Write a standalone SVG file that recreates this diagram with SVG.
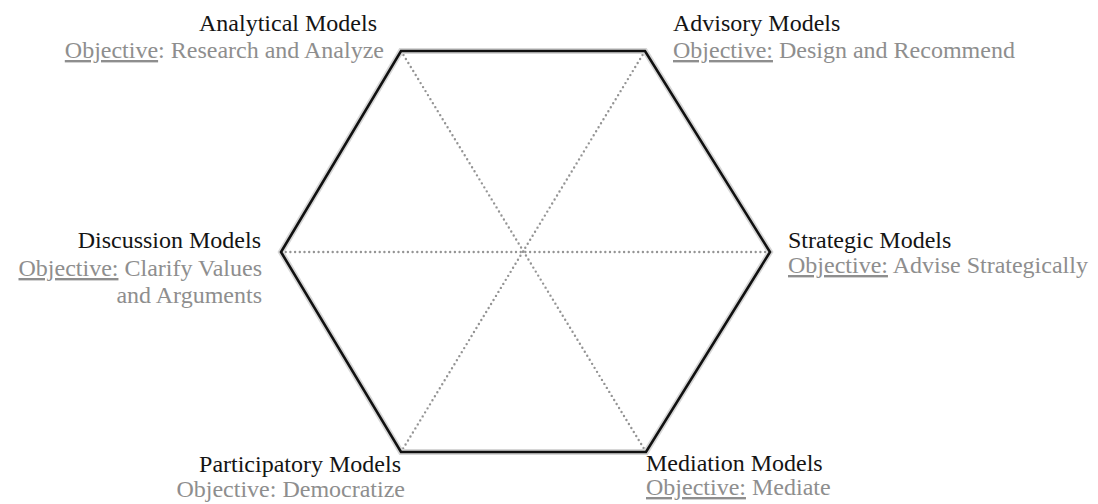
<svg xmlns="http://www.w3.org/2000/svg" width="1098" height="504" viewBox="0 0 1098 504">
  <style>
    .title { font-family: "Liberation Serif", "Times New Roman", serif; font-size: 24px; fill: #141414; }
    .obj { font-family: "Liberation Serif", "Times New Roman", serif; font-size: 24px; fill: #8e8e8e; }
    .u { text-decoration: underline; }
    .hex { fill: none; stroke: #111; stroke-width: 2.6; stroke-linejoin: miter; }
    .hexshadow { fill: none; stroke: #d6d6d6; stroke-width: 6; stroke-linejoin: miter; }
    .dot { fill: none; stroke: #949494; stroke-width: 2.4; stroke-linecap: round; stroke-dasharray: 0 4.7; }
  </style>
  <rect width="1098" height="504" fill="#ffffff"/>
  <g id="connectors">
    <line class="dot" x1="401" y1="51" x2="646" y2="452"/>
    <line class="dot" x1="645" y1="51" x2="401" y2="452"/>
    <line class="dot" x1="281" y1="252" x2="770" y2="252"/>
  </g>
  <g id="hexagon">
    <polygon class="hexshadow" points="401,51 645,51 770,252 646,452 401,452 281,252"/>
    <polygon class="hex" points="401,51 645,51 770,252 646,452 401,452 281,252"/>
  </g>
  <g id="analytical">
    <text class="title" x="377" y="31" text-anchor="end">Analytical Models</text>
    <text class="obj" x="384" y="58" text-anchor="end"><tspan class="u">Objective</tspan>: Research and Analyze</text>
  </g>
  <g id="advisory">
    <text class="title" x="673" y="31">Advisory Models</text>
    <text class="obj" x="673" y="58"><tspan class="u">Objective:</tspan> Design and Recommend</text>
  </g>
  <g id="discussion">
    <text class="title" x="261" y="248" text-anchor="end">Discussion Models</text>
    <text class="obj" x="262" y="276" text-anchor="end"><tspan class="u">Objective:</tspan> Clarify Values</text>
    <text class="obj" x="262" y="303" text-anchor="end">and Arguments</text>
  </g>
  <g id="strategic">
    <text class="title" x="788" y="248">Strategic Models</text>
    <text class="obj" x="788" y="273"><tspan class="u">Objective:</tspan> Advise Strategically</text>
  </g>
  <g id="participatory">
    <text class="title" x="401" y="472" text-anchor="end">Participatory Models</text>
    <text class="obj" x="405" y="497" text-anchor="end">Objective: Democratize</text>
  </g>
  <g id="mediation">
    <text class="title" x="646" y="471">Mediation Models</text>
    <text class="obj" x="646" y="495"><tspan class="u">Objective:</tspan> Mediate</text>
  </g>
</svg>
